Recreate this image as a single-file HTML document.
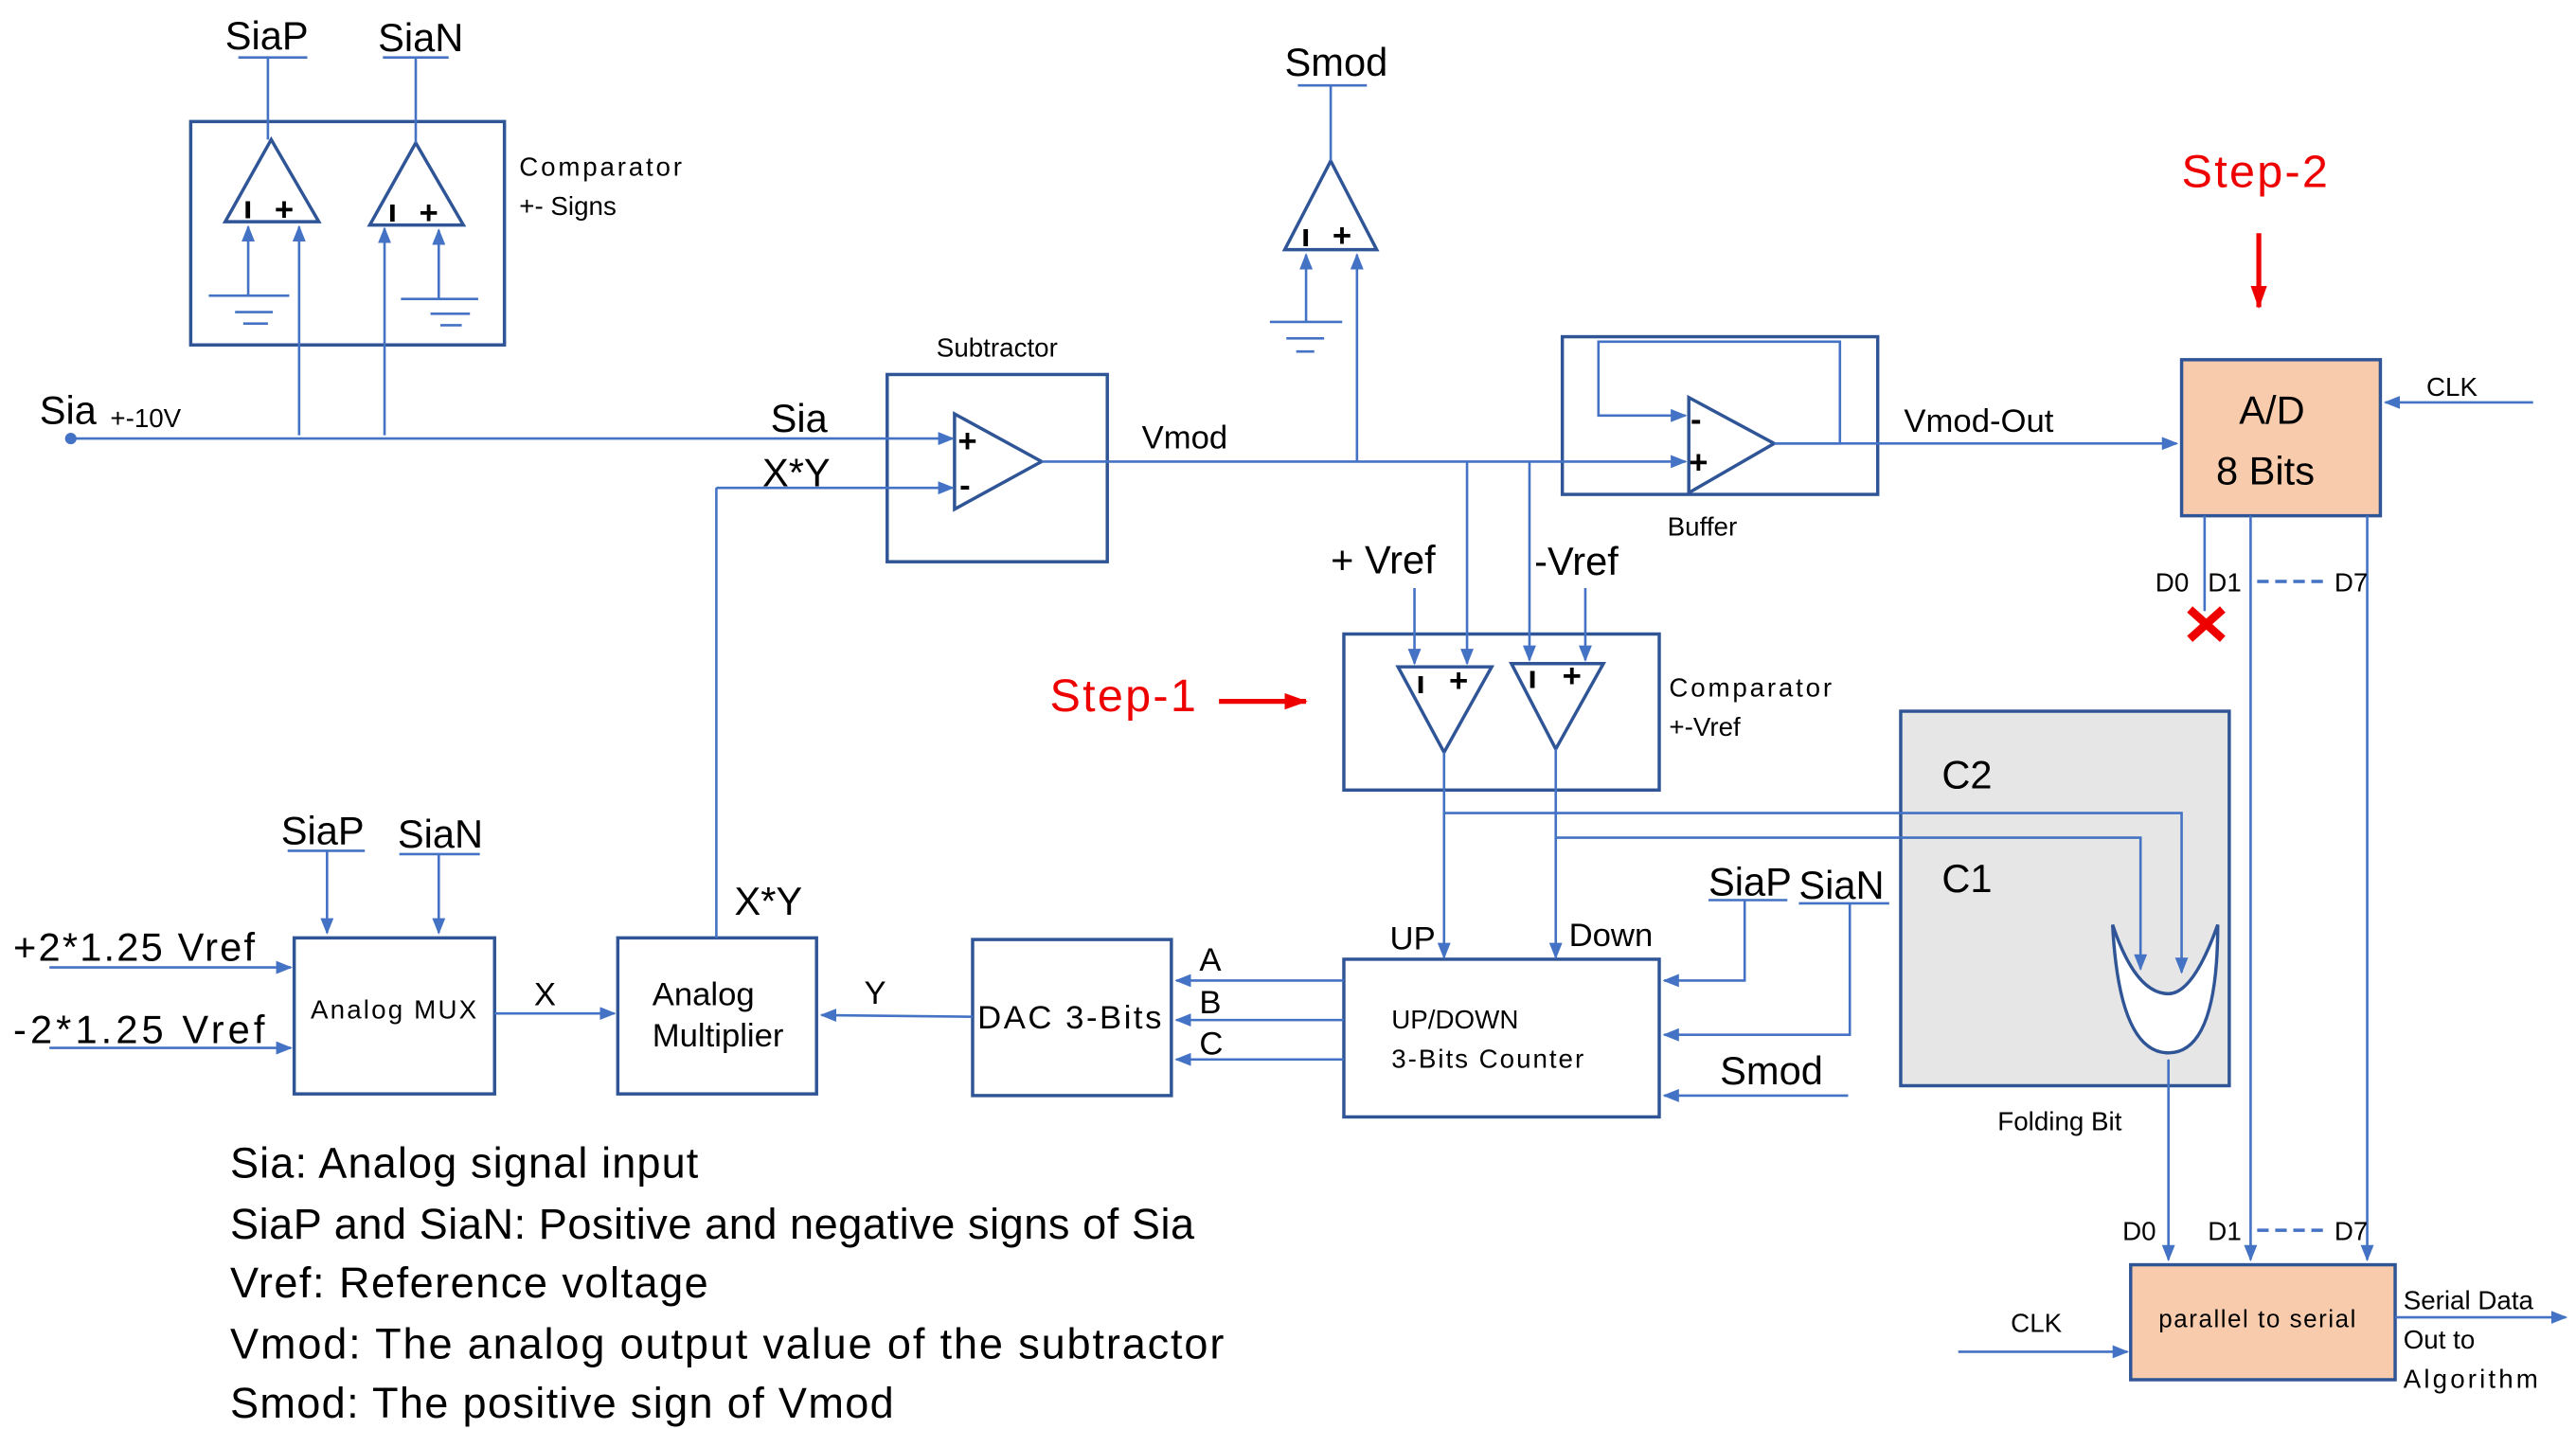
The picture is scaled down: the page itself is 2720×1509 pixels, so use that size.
<!DOCTYPE html>
<html><head><meta charset="utf-8"><style>
html,body{margin:0;padding:0;background:#fff;}
svg{display:block;}
text{font-family:"Liberation Sans",sans-serif;fill:#000;}
</style></head><body>
<svg width="2720" height="1509" viewBox="0 0 1568 870" xmlns="http://www.w3.org/2000/svg">
<defs>
<marker id="a" markerWidth="10" markerHeight="8" refX="9" refY="4" orient="auto" markerUnits="userSpaceOnUse"><path d="M0,0 L10,4 L0,8 z" fill="#4472C4"/></marker>
<marker id="r" markerWidth="14" markerHeight="10" refX="13" refY="5" orient="auto" markerUnits="userSpaceOnUse"><path d="M0,0 L14,5 L0,10 z" fill="#e00"/></marker>
</defs>
<g fill="none" stroke="#2F5597" stroke-width="2">
<rect x="116" y="74" width="191" height="136"/>
<rect x="540" y="228" width="134" height="114"/>
<rect x="951" y="205" width="192" height="96"/>
<rect x="1328" y="219" width="121" height="95" fill="#F8CBAD"/>
<rect x="818" y="386" width="192" height="95"/>
<rect x="1157" y="433" width="200" height="228" fill="#E6E6E6"/>
<rect x="818" y="584" width="192" height="96"/>
<rect x="592" y="572" width="121" height="95"/>
<rect x="376" y="571" width="121" height="95"/>
<rect x="179" y="571" width="122" height="95"/>
<rect x="1297" y="770" width="161" height="70" fill="#F8CBAD"/>
<polygon points="165,85 137,135 194,135"/>
<polygon points="253,87 225,137 282,137"/>
<polygon points="810,98 782,152 838,152"/>
<polygon points="581,252 581,310 634,281"/>
<polygon points="1028,242 1028,300 1080,270"/>
<polygon points="851,406 908,406 879,458"/>
<polygon points="920,404 976,404 947,456"/>
<path d="M1286,563 Q1290,641 1320,641 Q1350,641 1350,563 Q1335,605 1320,605 Q1300,605 1286,563 z" fill="#fff"/>
</g>
<g fill="none" stroke="#4472C4" stroke-width="1.5">
<line x1="163" y1="85" x2="163" y2="35"/><line x1="145" y1="35" x2="187" y2="35"/>
<line x1="253" y1="87" x2="253" y2="35"/><line x1="233" y1="35" x2="273" y2="35"/>
<line x1="151" y1="180" x2="151" y2="138" marker-end="url(#a)"/>
<line x1="182" y1="265" x2="182" y2="138" marker-end="url(#a)"/>
<line x1="234" y1="265" x2="234" y2="139" marker-end="url(#a)"/>
<line x1="267" y1="182" x2="267" y2="140" marker-end="url(#a)"/>
<line x1="127" y1="180" x2="176" y2="180"/><line x1="143" y1="190" x2="166" y2="190"/><line x1="148" y1="197" x2="163" y2="197"/>
<line x1="244" y1="182" x2="291" y2="182"/><line x1="262" y1="191" x2="286" y2="191"/><line x1="268" y1="198" x2="281" y2="198"/>
<line x1="43" y1="267" x2="580" y2="267" marker-end="url(#a)"/>
<line x1="436" y1="571" x2="436" y2="297"/><line x1="436" y1="297" x2="580" y2="297" marker-end="url(#a)"/>
<line x1="634" y1="281" x2="1026" y2="281" marker-end="url(#a)"/>
<line x1="826" y1="281" x2="826" y2="155" marker-end="url(#a)"/>
<line x1="810" y1="98" x2="810" y2="52"/><line x1="790" y1="52" x2="832" y2="52"/>
<line x1="795" y1="196" x2="795" y2="155" marker-end="url(#a)"/>
<line x1="773" y1="196" x2="817" y2="196"/><line x1="783" y1="206" x2="806" y2="206"/><line x1="789" y1="214" x2="800" y2="214"/>
<polyline points="1080,270 1120,270 1120,208 973,208 973,253 1026,253" marker-end="url(#a)"/>
<line x1="1080" y1="270" x2="1325" y2="270" marker-end="url(#a)"/>
<line x1="1542" y1="245" x2="1452" y2="245" marker-end="url(#a)"/>
<line x1="1342" y1="314" x2="1342" y2="372"/>
<line x1="1370" y1="314" x2="1370" y2="767" marker-end="url(#a)"/>
<line x1="1441" y1="314" x2="1441" y2="767" marker-end="url(#a)"/>
<line x1="1374" y1="354" x2="1418" y2="354" stroke-dasharray="7,4" stroke-width="2"/>
<line x1="1374" y1="749" x2="1418" y2="749" stroke-dasharray="7,4" stroke-width="2"/>
<line x1="861" y1="358" x2="861" y2="404" marker-end="url(#a)"/>
<line x1="893" y1="281" x2="893" y2="404" marker-end="url(#a)"/>
<line x1="931" y1="281" x2="931" y2="402" marker-end="url(#a)"/>
<line x1="965" y1="358" x2="965" y2="402" marker-end="url(#a)"/>
<line x1="879" y1="458" x2="879" y2="583" marker-end="url(#a)"/>
<line x1="947" y1="456" x2="947" y2="583" marker-end="url(#a)"/>
<polyline points="879,495 1328,495 1328,592" marker-end="url(#a)"/>
<polyline points="947,510 1303,510 1303,590" marker-end="url(#a)"/>
<line x1="1320" y1="645" x2="1320" y2="767" marker-end="url(#a)"/>
<line x1="1040" y1="548" x2="1088" y2="548"/>
<polyline points="1062,548 1062,597 1013,597" marker-end="url(#a)"/>
<line x1="1095" y1="550" x2="1150" y2="550"/>
<polyline points="1126,550 1126,630 1013,630" marker-end="url(#a)"/>
<line x1="1125" y1="667" x2="1013" y2="667" marker-end="url(#a)"/>
<line x1="818" y1="597" x2="716" y2="597" marker-end="url(#a)"/>
<line x1="818" y1="621" x2="716" y2="621" marker-end="url(#a)"/>
<line x1="818" y1="645" x2="716" y2="645" marker-end="url(#a)"/>
<line x1="592" y1="619" x2="500" y2="618" marker-end="url(#a)"/>
<line x1="301" y1="617" x2="374" y2="617" marker-end="url(#a)"/>
<line x1="175" y1="518" x2="222" y2="518"/><line x1="199" y1="518" x2="199" y2="568" marker-end="url(#a)"/>
<line x1="243" y1="520" x2="292" y2="520"/><line x1="267" y1="520" x2="267" y2="568" marker-end="url(#a)"/>
<line x1="30" y1="589" x2="177" y2="589" marker-end="url(#a)"/>
<line x1="30" y1="638" x2="177" y2="638" marker-end="url(#a)"/>
<line x1="1192" y1="823" x2="1295" y2="823" marker-end="url(#a)"/>
<line x1="1458" y1="802" x2="1562" y2="802" marker-end="url(#a)"/>
</g>
<circle cx="43" cy="267" r="3.5" fill="#4472C4"/>
<line x1="1375" y1="142" x2="1375" y2="187" stroke="#e00" stroke-width="3" marker-end="url(#r)"/>
<line x1="742" y1="427" x2="795" y2="427" stroke="#e00" stroke-width="3" marker-end="url(#r)"/>
<path d="M1333,371 L1353,389 M1353,371 L1333,389" stroke="#e00" stroke-width="5"/>
<text x="1328" y="114" font-size="28" textLength="89" style="fill:#e00">Step-2</text>
<text x="639" y="433" font-size="28" textLength="89" style="fill:#e00">Step-1</text>
<g font-size="20" font-weight="bold">
<text x="148" y="133">ı</text><text x="167" y="134">+</text>
<text x="236" y="135">ı</text><text x="255" y="136">+</text>
<text x="792" y="150">ı</text><text x="811" y="150">+</text>
<text x="862" y="422">ı</text><text x="882" y="421">+</text>
<text x="930" y="419">ı</text><text x="951" y="418">+</text>
<text x="583" y="275">+</text><text x="584" y="302">-</text>
<text x="1029" y="262">-</text><text x="1028" y="288">+</text>
</g>
<g font-size="24">
<text x="137" y="30">SiaP</text><text x="230" y="31">SiaN</text>
<text x="782" y="46">Smod</text>
<text x="24" y="258">Sia</text>
<text x="469" y="263">Sia</text>
<text x="464" y="296">X*Y</text>
<text x="1363" y="258">A/D</text>
<text x="1349" y="295">8 Bits</text>
<text x="810" y="349">+ Vref</text>
<text x="934" y="350">-Vref</text>
<text x="1182" y="480">C2</text><text x="1182" y="543">C1</text>
<text x="1040" y="545">SiaP</text><text x="1095" y="547">SiaN</text>
<text x="1047" y="660">Smod</text>
<text x="447" y="557">X*Y</text>
<text x="171" y="514">SiaP</text><text x="242" y="516">SiaN</text>
<text x="8" y="585" textLength="147">+2*1.25 Vref</text>
<text x="8" y="635" textLength="153">-2*1.25 Vref</text>
</g>
<g font-size="20">
<text x="695" y="273">Vmod</text>
<text x="1159" y="263">Vmod-Out</text>
<text x="595" y="626" textLength="112">DAC 3-Bits</text>
<text x="730" y="591">A</text><text x="730" y="617">B</text><text x="730" y="642">C</text>
<text x="526" y="611">Y</text><text x="325" y="612">X</text>
<text x="846" y="578">UP</text><text x="955" y="576">Down</text>
<text x="397" y="612">Analog</text><text x="397" y="637">Multiplier</text>
</g>
<g font-size="16">
<text x="316" y="107" textLength="99">Comparator</text><text x="316" y="131">+-  Signs</text>
<text x="67" y="260">+-10V</text>
<text x="570" y="217">Subtractor</text>
<text x="1015" y="326">Buffer</text>
<text x="1477" y="241">CLK</text>
<text x="1312" y="360">D0</text><text x="1344" y="360">D1</text><text x="1421" y="360">D7</text>
<text x="1016" y="424" textLength="99">Comparator</text><text x="1016" y="448">+-Vref</text>
<text x="1216" y="688">Folding Bit</text>
<text x="847" y="626">UP/DOWN</text><text x="847" y="650" textLength="117">3-Bits Counter</text>
<text x="189" y="620" textLength="101">Analog MUX</text>
<text x="1292" y="755">D0</text><text x="1344" y="755">D1</text><text x="1421" y="755">D7</text>
<text x="1224" y="811">CLK</text>
<text x="1314" y="808" font-size="15" textLength="120">parallel to serial</text>
<text x="1463" y="797">Serial Data</text><text x="1463" y="821">Out to</text><text x="1463" y="845" textLength="82">Algorithm</text>
</g>
<g font-size="26">
<text x="140" y="717" textLength="285">Sia: Analog signal input</text>
<text x="140" y="754" textLength="587">SiaP and SiaN: Positive and negative signs of Sia</text>
<text x="140" y="790" textLength="291">Vref: Reference voltage</text>
<text x="140" y="827" textLength="605">Vmod: The analog output value of the subtractor</text>
<text x="140" y="863" textLength="404">Smod: The positive sign of Vmod</text>
</g>
</svg>
</body></html>
